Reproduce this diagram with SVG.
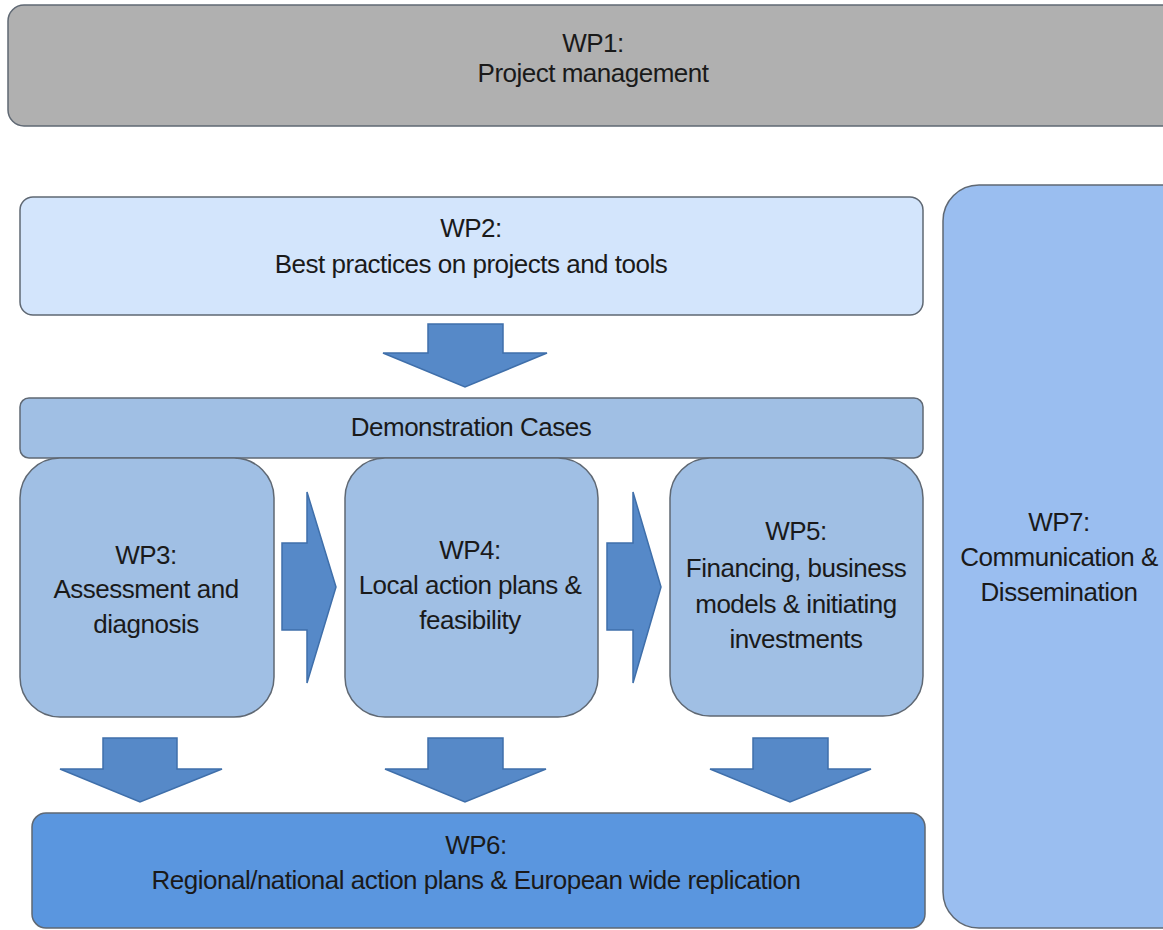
<svg xmlns="http://www.w3.org/2000/svg" width="1163" height="930" viewBox="0 0 1163 930">
  <style>
    .lbl { font-family: "Liberation Sans", Arial, sans-serif; font-size: 26px; fill: #1a1a1a; text-anchor: middle; letter-spacing: -0.5px; }
    .box { stroke: #5f6873; stroke-width: 1.5; }
    .arrow { fill: #5689C8; stroke: #3F6FAA; stroke-width: 1.5; stroke-linejoin: miter; }
  </style>
  <rect width="1163" height="930" fill="#ffffff"/>

  <g id="wp1">
    <rect class="box" x="8" y="5" width="1170" height="121" rx="16" fill="#B0B0B0" stroke="#707070"/>
    <text class="lbl" x="593" y="52">WP1:</text>
    <text class="lbl" x="593" y="82">Project management</text>
  </g>

  <g id="wp2">
    <rect class="box" x="20" y="197" width="903" height="118" rx="13" fill="#D3E5FC"/>
    <text class="lbl" x="471" y="237">WP2:</text>
    <text class="lbl" x="471" y="273">Best practices on projects and tools</text>
  </g>

  <g id="wp7">
    <rect class="box" x="943" y="185" width="260" height="743" rx="36" fill="#9ABEF0"/>
    <text class="lbl" x="1059" y="531">WP7:</text>
    <text class="lbl" x="1059" y="566">Communication &amp;</text>
    <text class="lbl" x="1059" y="601">Dissemination</text>
  </g>

  <g id="demo">
    <rect class="box" x="20" y="398" width="903" height="60" rx="9" fill="#A0BFE4"/>
    <text class="lbl" x="471" y="436">Demonstration Cases</text>
  </g>

  <g id="wp3">
    <rect class="box" x="20" y="458" width="254" height="259" rx="40" fill="#A0BFE4"/>
    <text class="lbl" x="146" y="564">WP3:</text>
    <text class="lbl" x="146" y="598">Assessment and</text>
    <text class="lbl" x="146" y="633">diagnosis</text>
  </g>

  <g id="wp4">
    <rect class="box" x="345" y="458" width="253" height="259" rx="40" fill="#A0BFE4"/>
    <text class="lbl" x="470" y="559">WP4:</text>
    <text class="lbl" x="470" y="594">Local action plans &amp;</text>
    <text class="lbl" x="470" y="629">feasibility</text>
  </g>

  <g id="wp5">
    <rect class="box" x="670" y="458" width="253" height="258" rx="40" fill="#A0BFE4"/>
    <text class="lbl" x="796" y="540">WP5:</text>
    <text class="lbl" x="796" y="577">Financing, business</text>
    <text class="lbl" x="796" y="613">models &amp; initiating</text>
    <text class="lbl" x="796" y="648">investments</text>
  </g>

  <g id="wp6">
    <rect class="box" x="32" y="813" width="893" height="115" rx="14" fill="#5A96DF"/>
    <text class="lbl" x="476" y="854">WP6:</text>
    <text class="lbl" x="476" y="889">Regional/national action plans &amp; European wide replication</text>
  </g>

  <g id="connectors">
    <!-- WP2 down to demonstration cases -->
    <polygon class="arrow" points="428,324 503,324 503,353 547,353 465,387 383,353 428,353"/>
    <!-- WP3 -> WP4 -> WP5 -->
    <polygon class="arrow" points="282,543 307,543 307,492 336,587 307,683 307,630 282,630"/>
    <polygon class="arrow" points="607,543 633,543 633,492 661,587 633,683 633,630 607,630"/>
    <!-- WP3, WP4, WP5 down to WP6 -->
    <polygon class="arrow" points="103,738 177,738 177,769 222,769 140,802 60,769 103,769"/>
    <polygon class="arrow" points="428,738 503,738 503,769 546,769 465,802 385,769 428,769"/>
    <polygon class="arrow" points="753,738 828,738 828,769 871,769 790,802 710,769 753,769"/>
  </g>
</svg>
